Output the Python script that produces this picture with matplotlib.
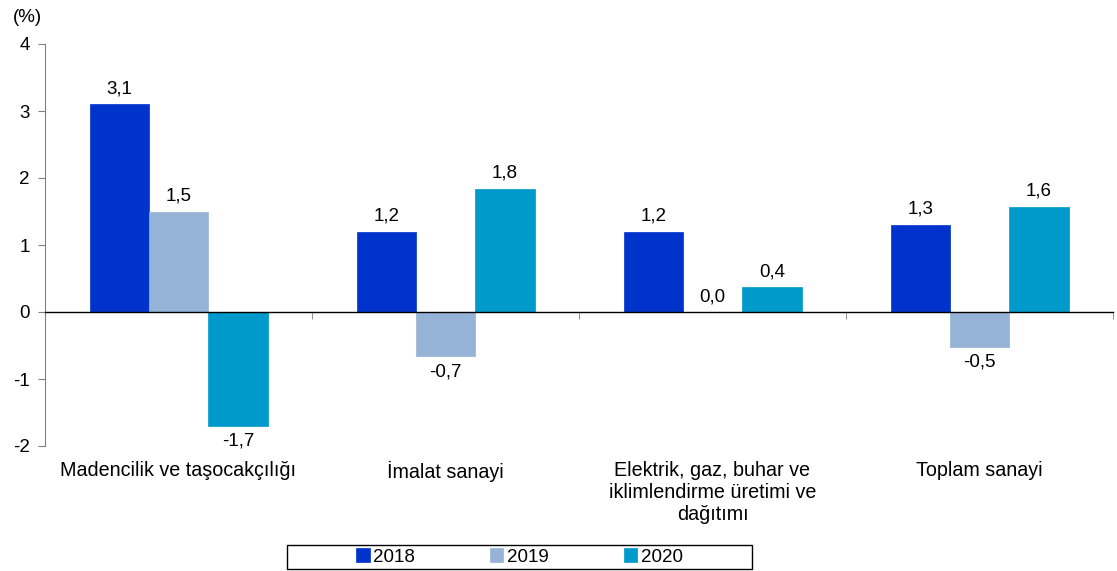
import matplotlib
matplotlib.use("Agg")
import matplotlib.pyplot as plt
import numpy as np
from matplotlib.patches import Rectangle

plt.rcParams['font.family'] = ['Liberation Sans', 'DejaVu Sans']
plt.rcParams['axes.unicode_minus'] = False

categories = ["Madencilik ve taşocakçılığı", "İmalat sanayi",
              "Elektrik, gaz, buhar ve\niklimlendirme üretimi ve\ndağıtımı",
              "Toplam sanayi"]
years = ["2018", "2019", "2020"]
vals_2018 = [3.1, 1.2, 1.2, 1.3]
vals_2019 = [1.5, -0.66, 0.0, -0.52]
vals_2020 = [-1.7, 1.84, 0.37, 1.57]
labels_2018 = ["3,1", "1,2", "1,2", "1,3"]
labels_2019 = ["1,5", "-0,7", "0,0", "-0,5"]
labels_2020 = ["-1,7", "1,8", "0,4", "1,6"]
yticks = [-2, -1, 0, 1, 2, 3, 4]

colors = ["#0033CC", "#95B3D7", "#0099CC"]

fig = plt.figure(figsize=(11.17, 5.71), dpi=100)
ax = fig.add_axes([45/1117, 1-446/571, (1113-45)/1117, (446-44)/571])

x = np.arange(len(categories))
w = 2/9
series = [vals_2018, vals_2019, vals_2020]
labels = [labels_2018, labels_2019, labels_2020]
for i, (vals, lab) in enumerate(zip(series, labels)):
    bars = ax.bar(x + (i-1)*w, vals, width=w, color=colors[i], label=years[i],
                  edgecolor=colors[i], linewidth=0.5, zorder=2)
    ax.bar_label(bars, labels=lab, padding=5, fontsize=13.5)

ax.set_xlim(-0.5, len(categories)-0.5)
ax.set_ylim(-2, 4)
ax.set_yticks(yticks)
ax.set_yticklabels([str(t) for t in yticks], fontsize=13.5)
ax.tick_params(axis='y', length=5, color='#808080', pad=6)

for s in ['top', 'right']:
    ax.spines[s].set_visible(False)
ax.spines['left'].set_color('#808080')
ax.spines['bottom'].set_position(('data', 0))
ax.spines['bottom'].set_color('black')
ax.spines['bottom'].set_linewidth(1.0)
ax.spines['bottom'].set_zorder(3)

ax.set_xticks(x)
ax.set_xticklabels([])
ax.tick_params(axis='x', which='major', length=0)
ax.set_xticks(np.arange(len(categories)+1) - 0.5, minor=True)
ax.tick_params(axis='x', which='minor', length=5, color='#808080')

for i, c in enumerate(categories):
    ax.annotate(c, xy=(x[i], -2), xytext=(0, -11), textcoords='offset points',
                ha='center', va='top', fontsize=14.2, linespacing=1.2)

fig.text(13/1117, 1-17/571, "(%)", fontsize=13.5, va='center', ha='left')

fig.legend(loc='center', bbox_to_anchor=(519.5/1117, 1-557/571), ncol=3,
           frameon=False, fontsize=13.5, handlelength=0.7, handleheight=0.7,
           handletextpad=0.2, columnspacing=4.0)
fig.patches.append(Rectangle((287/1117, 1-569/571), 465/1117, 24/571,
                             transform=fig.transFigure, fill=False,
                             edgecolor='black', linewidth=1.0))

fig.savefig("out.png", dpi=100)
